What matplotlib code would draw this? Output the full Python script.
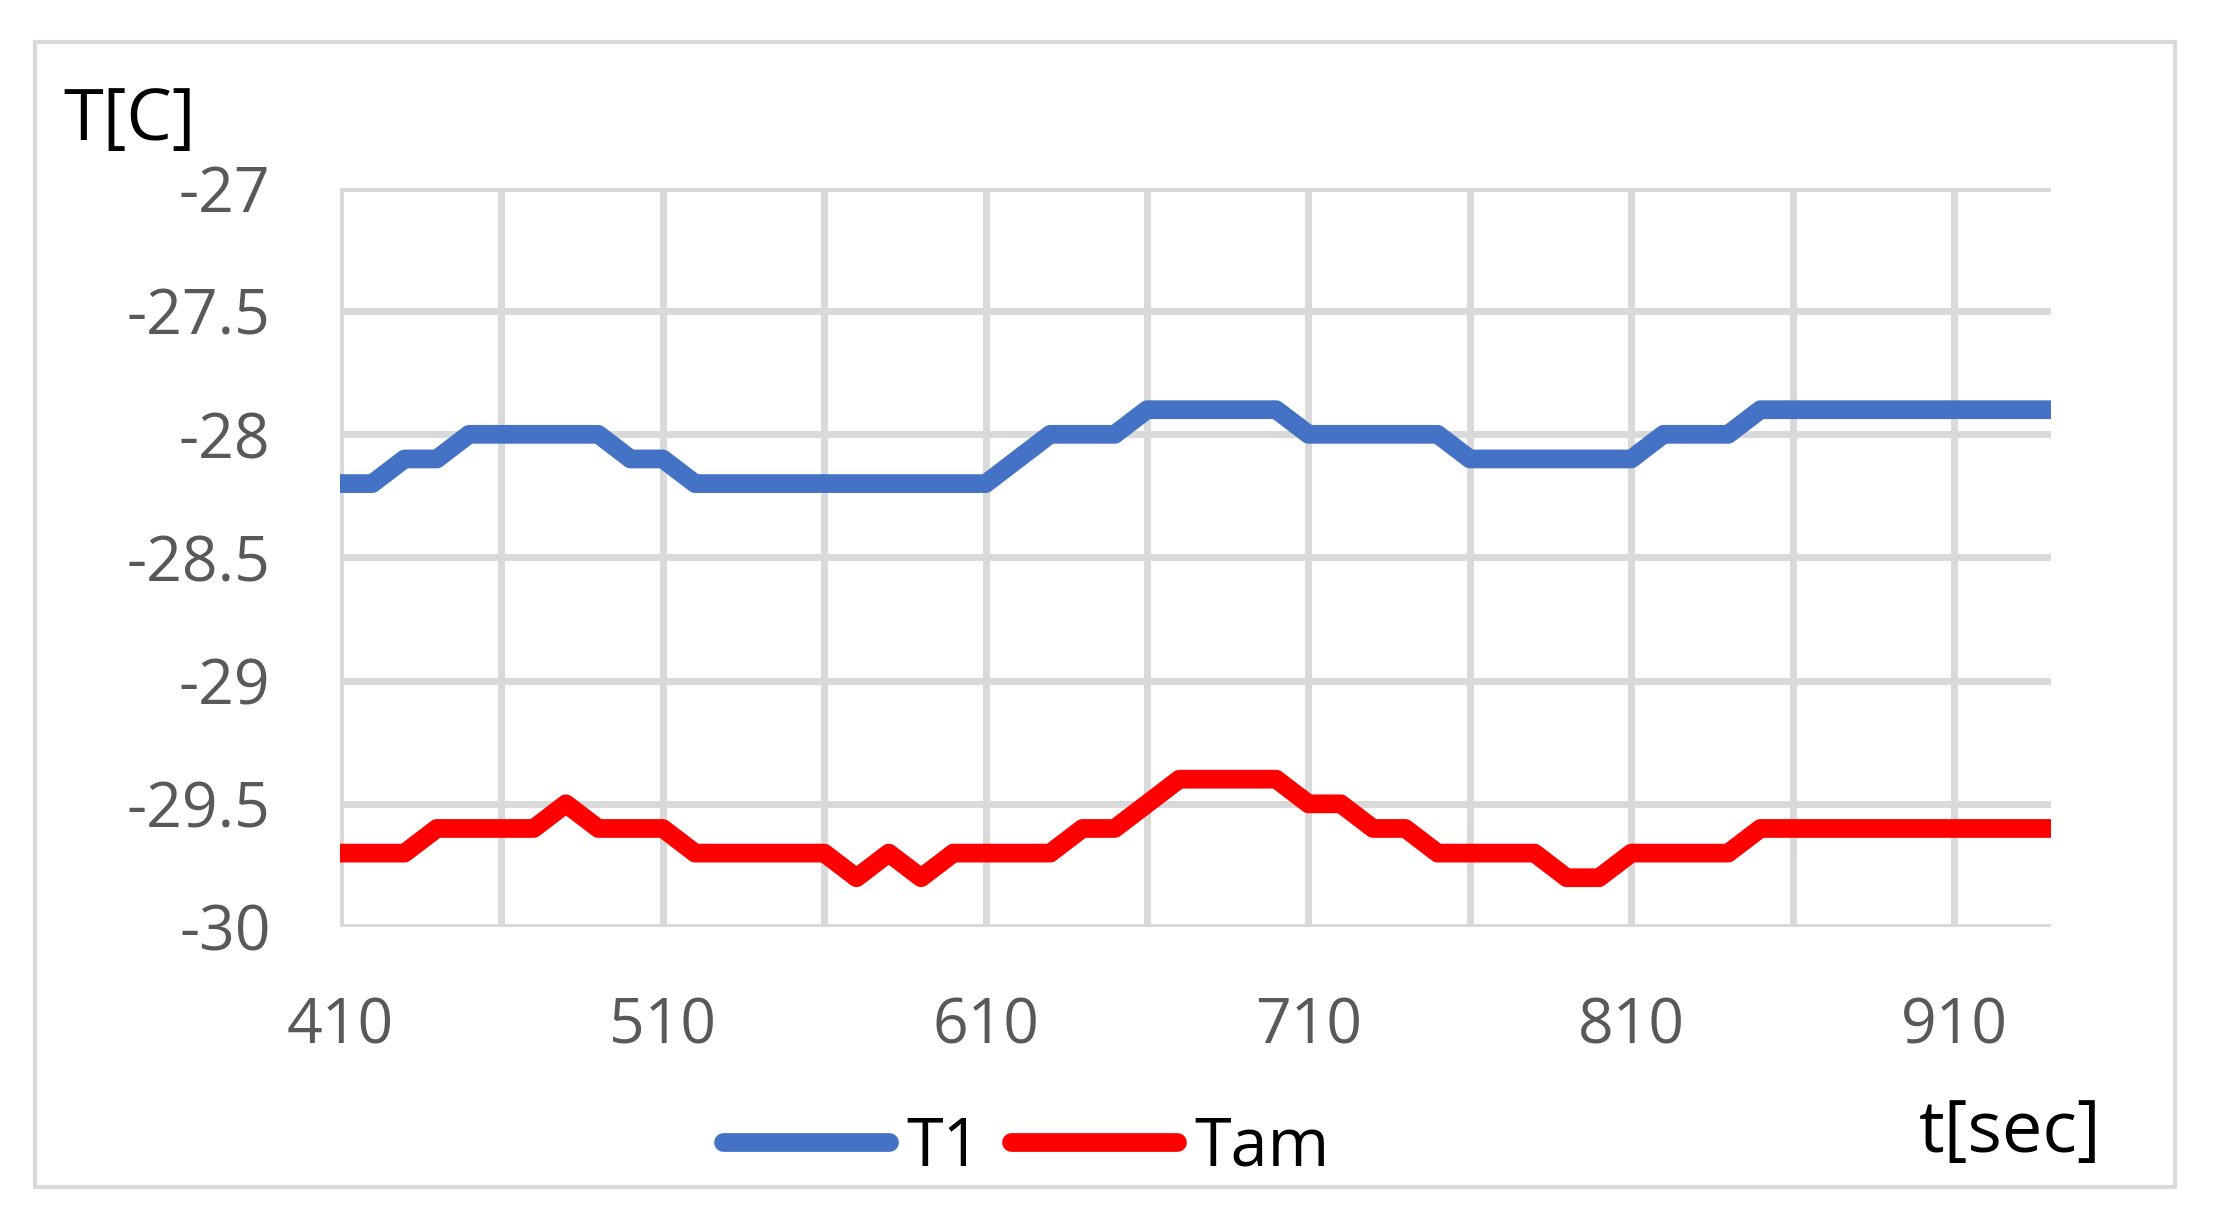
import matplotlib
matplotlib.use("Agg")
import matplotlib.pyplot as plt
from matplotlib.patches import Rectangle
from matplotlib.lines import Line2D

plt.rcParams['font.family'] = ['Open Sans', 'DejaVu Sans']

# time axis, one reading every 10 s
t = list(range(410, 950, 10))

T1 = [-28.2, -28.2, -28.1, -28.1, -28.0, -28.0, -28.0, -28.0, -28.0, -28.1,
      -28.1, -28.2, -28.2, -28.2, -28.2, -28.2, -28.2, -28.2, -28.2, -28.2,
      -28.2, -28.1, -28.0, -28.0, -28.0, -27.9, -27.9, -27.9, -27.9, -27.9,
      -28.0, -28.0, -28.0, -28.0, -28.0, -28.1, -28.1, -28.1, -28.1, -28.1,
      -28.1, -28.0, -28.0, -28.0, -27.9, -27.9, -27.9, -27.9, -27.9, -27.9,
      -27.9, -27.9, -27.9, -27.9]

Tam = [-29.7, -29.7, -29.7, -29.6, -29.6, -29.6, -29.6, -29.5, -29.6, -29.6,
       -29.6, -29.7, -29.7, -29.7, -29.7, -29.7, -29.8, -29.7, -29.8, -29.7,
       -29.7, -29.7, -29.7, -29.6, -29.6, -29.5, -29.4, -29.4, -29.4, -29.4,
       -29.5, -29.5, -29.6, -29.6, -29.7, -29.7, -29.7, -29.7, -29.8, -29.8,
       -29.7, -29.7, -29.7, -29.7, -29.6, -29.6, -29.6, -29.6, -29.6, -29.6,
       -29.6, -29.6, -29.6, -29.6]

x_grid = list(range(410, 941, 50))
x_labels = [410, 510, 610, 710, 810, 910]
y_ticks = [-30, -29.5, -29, -28.5, -28, -27.5, -27]
y_labels = ['-30', '-29.5', '-29', '-28.5', '-28', '-27.5', '-27']

W, H = 2215, 1228
fig = plt.figure(figsize=(W / 100, H / 100), dpi=100)
fig.patch.set_facecolor('white')

# outer chart border
fig.patches.append(Rectangle((35 / W, 1 - 1187 / H), 2140 / W, 1145 / H,
                             transform=fig.transFigure, fill=False,
                             edgecolor='#d9d9d9', linewidth=3))

ax = fig.add_axes([340 / W, 1 - 927 / H, (2051 - 340) / W, (927 - 188) / H])
ax.set_xlim(410, 940)
ax.set_ylim(-30, -27)

# grid
for xv in x_grid:
    ax.axvline(xv, color='#d9d9d9', linewidth=5, zorder=1)
for yv in y_ticks:
    ax.axhline(yv, color='#d9d9d9', linewidth=5, zorder=1)

ax.plot(t, T1, color='#4472C4', linewidth=13.5, solid_joinstyle='round',
        solid_capstyle='butt', zorder=3, clip_on=False)
ax.plot(t, Tam, color='#FF0000', linewidth=13.5, solid_joinstyle='round',
        solid_capstyle='butt', zorder=3, clip_on=False)

ax.set_xticks(x_labels)
ax.set_xticklabels([str(v) for v in x_labels])
ax.set_yticks(y_ticks)
ax.set_yticklabels(y_labels)
ax.tick_params(axis='both', length=0, labelsize=45, colors='#595959')
ax.tick_params(axis='y', pad=50)
ax.tick_params(axis='x', pad=50)
for s in ax.spines.values():
    s.set_visible(False)

fig.text(63 / W, 1 - 140 / H, 'T[C]', fontsize=52, color='black',
         ha='left', va='baseline')
fig.text(2102 / W, 1 - 1152 / H, 't[sec]', fontsize=52, color='black',
         ha='right', va='baseline')

handles = [Line2D([], [], color='#4472C4', linewidth=13.5, solid_capstyle='round'),
           Line2D([], [], color='#FF0000', linewidth=13.5, solid_capstyle='round')]
fig.legend(handles, ['T1', 'Tam'], loc='center', ncol=2,
           bbox_to_anchor=(1026 / W, 1 - 1148 / H), frameon=False,
           fontsize=48, handlelength=2.5, handletextpad=0.25,
           columnspacing=0.45, borderpad=0)

fig.savefig('out.png', dpi=100, facecolor='white')
